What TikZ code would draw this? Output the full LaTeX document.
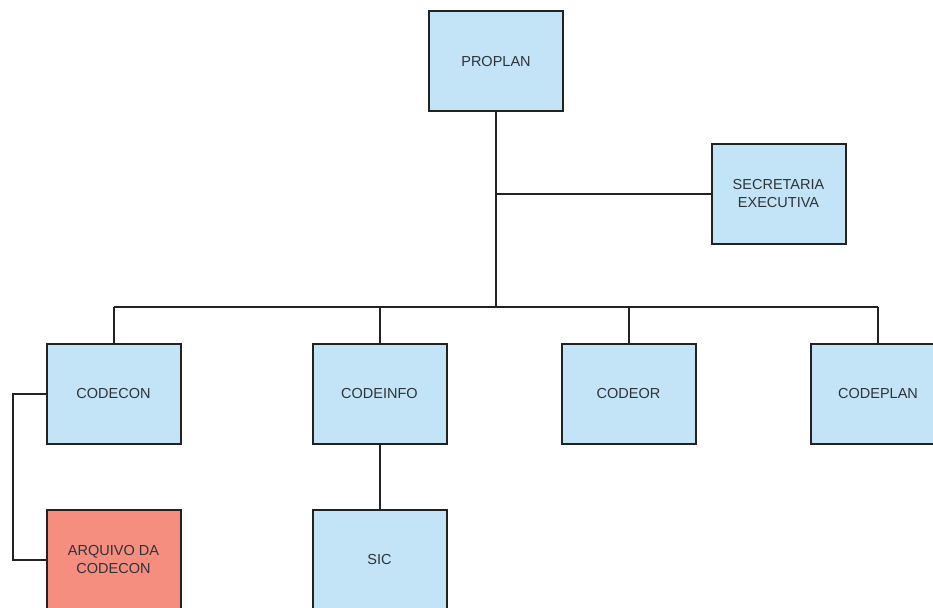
\documentclass[tikz,border=0pt]{standalone}
\usepackage{fontspec}
\setmainfont{Liberation Sans}
\definecolor{boxblue}{HTML}{C3E3F6}
\definecolor{boxred}{HTML}{F58E7F}
\definecolor{txt}{HTML}{2E3338}
\definecolor{edge}{HTML}{222222}
\begin{document}
\begin{tikzpicture}[x=1pt,y=-1pt,
  unit/.style={draw=edge,line width=2pt,fill=boxblue,minimum width=134pt,minimum height=100pt,
    align=center,text=txt,font=\fontsize{14.5}{18}\selectfont,inner sep=0pt},
  red/.style={unit,fill=boxred},
  conn/.style={draw=edge,line width=2pt}]
\useasboundingbox (0,0) rectangle (933,607);
\clip (0,0) rectangle (933,607);
\node[unit] (proplan) at (496,61.5) {PROPLAN};
\node[unit] (sec) at (778.5,194) {SECRETARIA\\EXECUTIVA};
\node[unit] (codecon) at (113.5,394) {CODECON};
\node[unit] (codeinfo) at (379.5,394) {CODEINFO};
\node[unit] (codeor) at (628.5,394) {CODEOR};
\node[unit] (codeplan) at (878,394) {CODEPLAN};
\node[red] (arquivo) at (113.5,560) {ARQUIVO DA\\CODECON};
\node[unit] (sic) at (379.5,560) {SIC};
\coordinate (bus) at (496,307);
\coordinate (side) at (13,0);
\draw[conn] (proplan.south) -- (bus);
\draw[conn] (proplan.south |- sec.west) -- (sec.west);
\draw[conn] (codecon.north |- bus) -- (codeplan.north |- bus);
\foreach \n in {codecon,codeinfo,codeor,codeplan}
  \draw[conn] (\n.north |- bus) -- (\n.north);
\draw[conn] (codecon.west) -- (side |- codecon.west) -- (side |- arquivo.west) -- (arquivo.west);
\draw[conn] (codeinfo.south) -- (sic.north);
\end{tikzpicture}
\end{document}
